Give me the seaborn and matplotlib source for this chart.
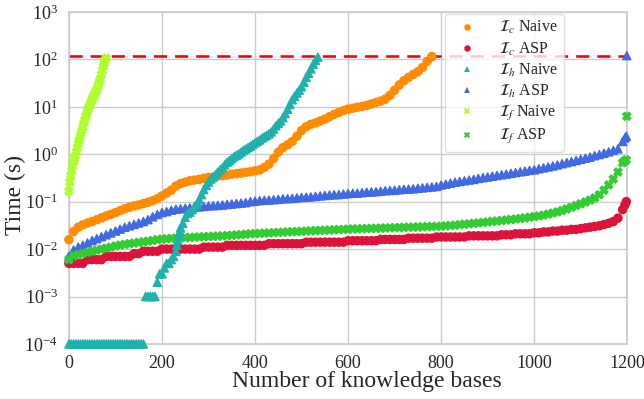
import numpy as np
import pandas as pd
import matplotlib
matplotlib.use("Agg")
import matplotlib.pyplot as plt
import seaborn as sns

# Solve times (seconds) of every configuration, sorted ascending per configuration.
TIMEOUT = 120.0
STEP = 10  # rank spacing of the uniformly sampled series

ic_naive = [
    0.0158, 0.0234, 0.0288, 0.0324, 0.0355, 0.038, 0.0417, 0.0457, 0.050, 0.0537,
    0.0589, 0.0646, 0.0708, 0.0759, 0.0813, 0.0851, 0.0912, 0.0977, 0.105, 0.115,
    0.132, 0.151, 0.174, 0.214, 0.240, 0.257, 0.275, 0.285, 0.295, 0.309,
    0.324, 0.331, 0.347, 0.355, 0.363, 0.380, 0.389, 0.400, 0.417, 0.427,
    0.447, 0.468, 0.525, 0.617, 0.813, 1.10, 1.38, 1.58, 1.86, 2.40,
    3.16, 3.80, 4.27, 4.57, 5.01, 5.50, 6.17, 6.92, 7.59, 8.32,
    8.91, 9.33, 9.77, 10.2, 10.7, 11.5, 12.3, 13.2, 14.5, 17.4,
    22.4, 28.8, 35.5, 41.7, 47.9, 55.0, 67.6, 91.2, 115.0,
]

ic_asp = [
    0.005, 0.005, 0.005, 0.005, 0.006, 0.006, 0.006, 0.006, 0.007, 0.007,
    0.007, 0.007, 0.007, 0.007, 0.008, 0.008, 0.009, 0.009, 0.009, 0.009,
    0.010, 0.010, 0.010, 0.010, 0.010, 0.010, 0.010, 0.010, 0.010, 0.011,
    0.011, 0.011, 0.011, 0.011, 0.012, 0.012, 0.012, 0.012, 0.012, 0.012,
    0.012, 0.012, 0.012, 0.013, 0.013, 0.013, 0.013, 0.013, 0.013, 0.013,
    0.013, 0.014, 0.014, 0.014, 0.014, 0.014, 0.014, 0.014, 0.014, 0.014,
    0.015, 0.015, 0.015, 0.015, 0.015, 0.015, 0.015, 0.016, 0.016, 0.016,
    0.016, 0.016, 0.016, 0.017, 0.017, 0.017, 0.017, 0.017, 0.017, 0.018,
    0.018, 0.018, 0.018, 0.018, 0.018, 0.018, 0.019, 0.019, 0.019, 0.019,
    0.019, 0.019, 0.019, 0.020, 0.020, 0.020, 0.021, 0.021, 0.021, 0.021,
    0.022, 0.022, 0.023, 0.023, 0.024, 0.024, 0.025, 0.025, 0.026, 0.026,
    0.027, 0.028, 0.029, 0.030, 0.031, 0.033, 0.035, 0.038, 0.045, 0.068,
]
ic_asp_tail_rank = [1195, 1198]
ic_asp_tail_time = [0.085, 0.100]

ih_asp = [
    0.0071, 0.0095, 0.0110, 0.0120, 0.0135, 0.0151, 0.0166, 0.0182, 0.0200, 0.0219,
    0.0240, 0.0263, 0.0288, 0.0309, 0.0331, 0.0355, 0.0380, 0.0417, 0.0479, 0.0537,
    0.0589, 0.0617, 0.0660, 0.0692, 0.0708, 0.0724, 0.0741, 0.0759, 0.0776, 0.0794,
    0.0813, 0.0822, 0.0832, 0.0851, 0.0871, 0.0891, 0.0912, 0.0933, 0.0955, 0.100,
    0.102, 0.105, 0.107, 0.108, 0.110, 0.112, 0.115, 0.116, 0.117, 0.120,
    0.123, 0.124, 0.126, 0.129, 0.132, 0.135, 0.138, 0.140, 0.141, 0.145,
    0.148, 0.150, 0.151, 0.155, 0.158, 0.160, 0.162, 0.166, 0.170, 0.172,
    0.174, 0.178, 0.182, 0.184, 0.186, 0.191, 0.195, 0.200, 0.204, 0.209,
    0.224, 0.234, 0.245, 0.257, 0.266, 0.275, 0.285, 0.295, 0.309, 0.320,
    0.331, 0.344, 0.356, 0.368, 0.381, 0.395, 0.410, 0.425, 0.440, 0.457,
    0.470, 0.492, 0.515, 0.540, 0.565, 0.595, 0.630, 0.665, 0.700, 0.740,
    0.780, 0.825, 0.870, 0.930, 0.985, 1.05, 1.12, 1.20, 1.30, 1.86,
]
ih_asp_tail_rank = [1195, 1198, 1199]
ih_asp_tail_time = [2.2, 2.4, 120.0]

if_asp = [
    0.0060, 0.0072, 0.0077, 0.0081, 0.0085, 0.0090, 0.0095, 0.0100, 0.0105, 0.0110,
    0.0116, 0.0121, 0.0126, 0.0130, 0.0134, 0.0138, 0.0142, 0.0147, 0.0152, 0.0158,
    0.0162, 0.0165, 0.0167, 0.0170, 0.0172, 0.0174, 0.0176, 0.0178, 0.0180, 0.0182,
    0.0184, 0.0186, 0.0188, 0.0190, 0.0193, 0.0196, 0.0199, 0.0202, 0.0206, 0.0210,
    0.0212, 0.0214, 0.0217, 0.0219, 0.0222, 0.0225, 0.0227, 0.0230, 0.0232, 0.0235,
    0.0237, 0.0240, 0.0242, 0.0245, 0.0247, 0.0250, 0.0252, 0.0255, 0.0258, 0.0260,
    0.0263, 0.0265, 0.0267, 0.0269, 0.0271, 0.0273, 0.0275, 0.0277, 0.0279, 0.0281,
    0.0283, 0.0285, 0.0287, 0.0289, 0.0291, 0.0293, 0.0295, 0.0297, 0.0299, 0.0301,
    0.0303, 0.0308, 0.0314, 0.0320, 0.0327, 0.0334, 0.0341, 0.0349, 0.0357, 0.0365,
    0.0373, 0.0382, 0.0391, 0.0400, 0.0410, 0.0420, 0.0431, 0.0442, 0.0453, 0.0470,
    0.0485, 0.0500, 0.0520, 0.0545, 0.0575, 0.0610, 0.0650, 0.0700, 0.0760, 0.0830,
    0.0900, 0.0980, 0.108, 0.120, 0.140, 0.175, 0.225, 0.300, 0.420, 0.660,
]
if_asp_tail_rank = [1195, 1198, 1199]
if_asp_tail_time = [0.72, 0.76, 6.3]

# Naive I_h: the first knowledge bases finish in 0 ms and sit on the axis floor.
ih_naive_floor_rank = list(range(0, 161, 5))
FLOOR = 1e-4
ih_naive_rank = (list(range(165, 230, 5)) + [230, 232, 234, 236, 238]
                 + list(range(240, 536, 5)))
ih_naive_time = [
    0.001, 0.001, 0.001, 0.001, 0.001, 0.002, 0.003, 0.003, 0.004, 0.005,
    0.005, 0.006, 0.007,
    0.009, 0.012, 0.015, 0.019, 0.023,
    0.028, 0.035, 0.047, 0.056, 0.060, 0.068, 0.079, 0.089, 0.11, 0.14,
    0.18, 0.22, 0.26, 0.30, 0.33, 0.37, 0.42, 0.47, 0.52, 0.60,
    0.68, 0.74, 0.81, 0.89, 0.95, 1.02, 1.10, 1.20, 1.29, 1.38,
    1.48, 1.62, 1.74, 1.86, 2.00, 2.19, 2.34, 2.51, 2.69, 2.95,
    3.39, 3.98, 4.47, 5.00, 5.90, 7.20, 8.90, 11.2, 14.1, 16.6,
    19.5, 22.4, 26.3, 33.0, 42.0, 51.0, 63.0, 79.0, 95.0, 112.0,
]

if_naive_rank = list(range(0, 81, 2))
if_naive_time = [
    0.166, 0.257, 0.355, 0.457, 0.56, 0.69, 0.81, 0.93, 1.12, 1.38,
    1.66, 1.95, 2.29, 2.69, 3.16, 3.72, 4.47, 5.25, 6.17, 7.08,
    8.13, 9.12, 10.2, 11.5, 12.9, 14.5, 15.8, 17.4, 19.1, 20.9,
    22.9, 26.3, 30.2, 34.7, 39.8, 47.9, 58.9, 70.8, 83.2, 95.5,
    107.0,
]

LBL = {
    "ic_naive": r"$\mathcal{I}_c$ Naive",
    "ic_asp": r"$\mathcal{I}_c$ ASP",
    "ih_naive": r"$\mathcal{I}_h$ Naive",
    "ih_asp": r"$\mathcal{I}_h$ ASP",
    "if_naive": r"$\mathcal{I}_f$ Naive",
    "if_asp": r"$\mathcal{I}_f$ ASP",
}
ORDER = ["ic_naive", "ic_asp", "ih_naive", "ih_asp", "if_naive", "if_asp"]
COLORS = ["darkorange", "crimson", "lightseagreen", "royalblue", "greenyellow", "limegreen"]
MARKERS = ["o", "o", "^", "^", "X", "X"]


def frame(key, ranks, times):
    return pd.DataFrame({"rank": ranks, "time": times, "config": LBL[key]})


def stepped(values):
    return [i * STEP for i in range(len(values))]


parts = [
    frame("ic_asp", stepped(ic_asp) + ic_asp_tail_rank, ic_asp + ic_asp_tail_time),
    frame("ih_asp", stepped(ih_asp) + ih_asp_tail_rank, ih_asp + ih_asp_tail_time),
    frame("if_asp", stepped(if_asp) + if_asp_tail_rank, if_asp + if_asp_tail_time),
    frame("ic_naive", stepped(ic_naive), ic_naive),
    frame("if_naive", if_naive_rank, if_naive_time),
    frame("ih_naive", ih_naive_floor_rank + ih_naive_rank,
          [FLOOR] * len(ih_naive_floor_rank) + ih_naive_time),
]
df = pd.concat(parts, ignore_index=True)

sns.set_theme(style="whitegrid")
plt.rcParams["font.family"] = ["Liberation Serif", "DejaVu Serif"]
plt.rcParams["mathtext.fontset"] = "stix"

fig, ax = plt.subplots(figsize=(6.44, 3.99), dpi=100)
fig.subplots_adjust(left=0.107, right=0.974, top=0.970, bottom=0.138)

hue_order = [LBL[k] for k in ORDER]
sns.scatterplot(
    data=df, x="rank", y="time", hue="config", style="config",
    hue_order=hue_order, style_order=hue_order,
    palette=dict(zip(hue_order, COLORS)),
    markers=dict(zip(hue_order, MARKERS)),
    s=34, linewidth=1.0, edgecolor="face", clip_on=False, ax=ax, zorder=3,
)

ax.axhline(TIMEOUT, color="red", lw=1.9, ls=(0, (5, 3)), zorder=2)

ax.set_yscale("log")
ax.set_ylim(1e-4, 1e3)
ax.set_xlim(0, 1200)
ax.set_xticks(range(0, 1201, 200))
ax.tick_params(axis="both", labelsize=13, pad=2)
ax.set_xlabel("Number of knowledge bases", fontsize=17)
ax.set_ylabel("Time (s)", fontsize=17)
ax.xaxis.set_label_coords(0.534, -0.082)
ax.yaxis.set_label_coords(-0.076, 0.45)

old = ax.get_legend()
handles = old.legend_handles
labels = [t.get_text() for t in old.get_texts()]
old.remove()
for h in handles:
    h.set_markeredgewidth(0)
ax.legend(
    handles, labels, loc="upper right", bbox_to_anchor=(0.889, 1.0),
    fontsize=11.5, frameon=True, framealpha=0.8, edgecolor="0.85",
    borderaxespad=0.1, labelspacing=0.26, handletextpad=1.0,
    borderpad=0.35, markerscale=0.8,
)

fig.savefig("out.png", dpi=100)
